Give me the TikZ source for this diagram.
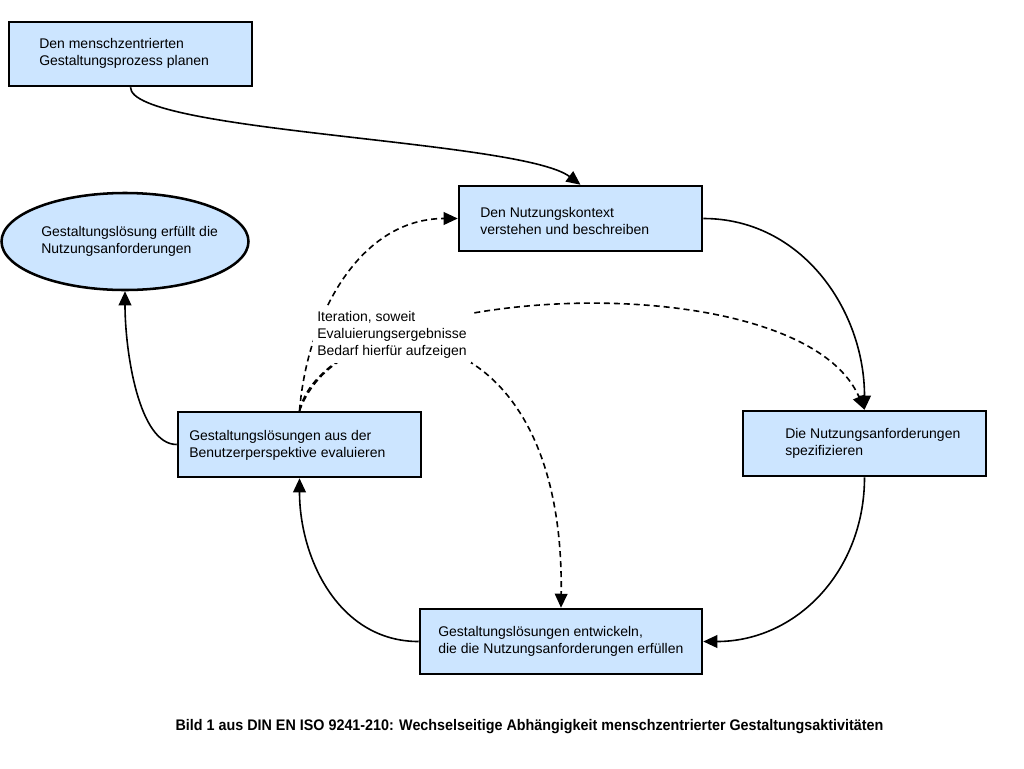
\documentclass[tikz,border=0pt]{standalone}
\usepackage{fontspec}
\setmainfont{Liberation Sans}
\usepackage{graphicx}
\usepackage{tikz}
\usetikzlibrary{arrows.meta,shapes.geometric}

\definecolor{boxblue}{RGB}{204,229,255}
\newcommand{\px}{0.75pt}
\tikzset{
  stepbox/.style={draw=black,line width=1.9pt,fill=boxblue,inner sep=0pt,
    minimum width=243*\px,minimum height=65*\px},
  goalshape/.style={ellipse,draw=black,line width=1.9pt,fill=boxblue,inner sep=0pt,
    minimum width=247*\px,minimum height=97*\px},
  lbl/.style={anchor=west,align=left,inner sep=0pt,font=\fontsize{10.5pt}{12.75pt}\selectfont},
  conn/.style={line width=1.2pt,-{Triangle[length=10.5pt,width=9.5pt]}},
  iter/.style={conn,dash pattern=on 4.5pt off 3pt}
}

\begin{document}
\begin{tikzpicture}[x=\px,y=-\px]
\useasboundingbox (0,0) rectangle (1024,768);
% boxes
\node[stepbox,minimum height=64*\px] (plan) at (130.5,54) {};
\node[stepbox] (ctx) at (580.5,218.5) {};
\node[goalshape] (goal) at (125,241.5) {};
\node[stepbox] (eval) at (299.5,444.5) {};
\node[stepbox] (spec) at (864.5,443.5) {};
\node[stepbox,minimum width=282*\px] (dev) at (561,641.5) {};
% texts
\node[lbl] (planT) at (39,53) {Den menschzentrierten\\Gestaltungsprozess planen};
\node[lbl] (ctxT) at (480,221) {Den Nutzungskontext\\verstehen und beschreiben};
\node[lbl] (goalT) at (41,241) {Gestaltungslösung erfüllt die\\Nutzungsanforderungen};
\node[lbl] (evalT) at (189,445) {Gestaltungslösungen aus der\\Benutzerperspektive evaluieren};
\node[lbl] (specT) at (785,443) {Die Nutzungsanforderungen\\spezifizieren};
\node[lbl] (devT) at (438,641) {Gestaltungslösungen entwickeln,\\die die Nutzungsanforderungen erfüllen};
% main cycle
\draw[conn] (plan.south) .. controls +(0,45) and +(-60,-45) .. (ctx.north);
\draw[conn] (ctx.east) .. controls +(99,0) and +(0,-99) .. (spec.north);
\draw[conn] (spec.south) .. controls +(0,94) and +(93,0) .. (dev.east);
\draw[conn] (dev.west) .. controls +(-80,0) and +(0,80) .. (eval.south);
\draw[conn] (eval.west) .. controls +(-38,0) and +(0,60) .. (goal.south);
% iteration
\draw[iter] (eval.north) .. controls +(8,-97) and +(-97,0) .. (ctx.west);
\draw[iter] (eval.north) .. controls (330,280) and (800,260) .. (spec.north);
\draw[iter] (eval.north) .. controls (340,300) and (565,300) .. (dev.north);
\node[lbl,fill=white,inner xsep=3pt,inner ysep=3pt] (iterT) at (313,335)
  {Iteration, soweit\\Evaluierungsergebnisse\\Bedarf hierfür aufzeigen};
% caption
\node[font=\bfseries\fontsize{11.5pt}{13pt}\selectfont,inner sep=0pt] (caption) at (529.5,727)
  {\scalebox{0.935}[1]{Bild 1 aus DIN EN ISO 9241-210: Wechselseitige Abhängigkeit menschzentrierter Gestaltungsaktivitäten}};
\end{tikzpicture}
\end{document}
